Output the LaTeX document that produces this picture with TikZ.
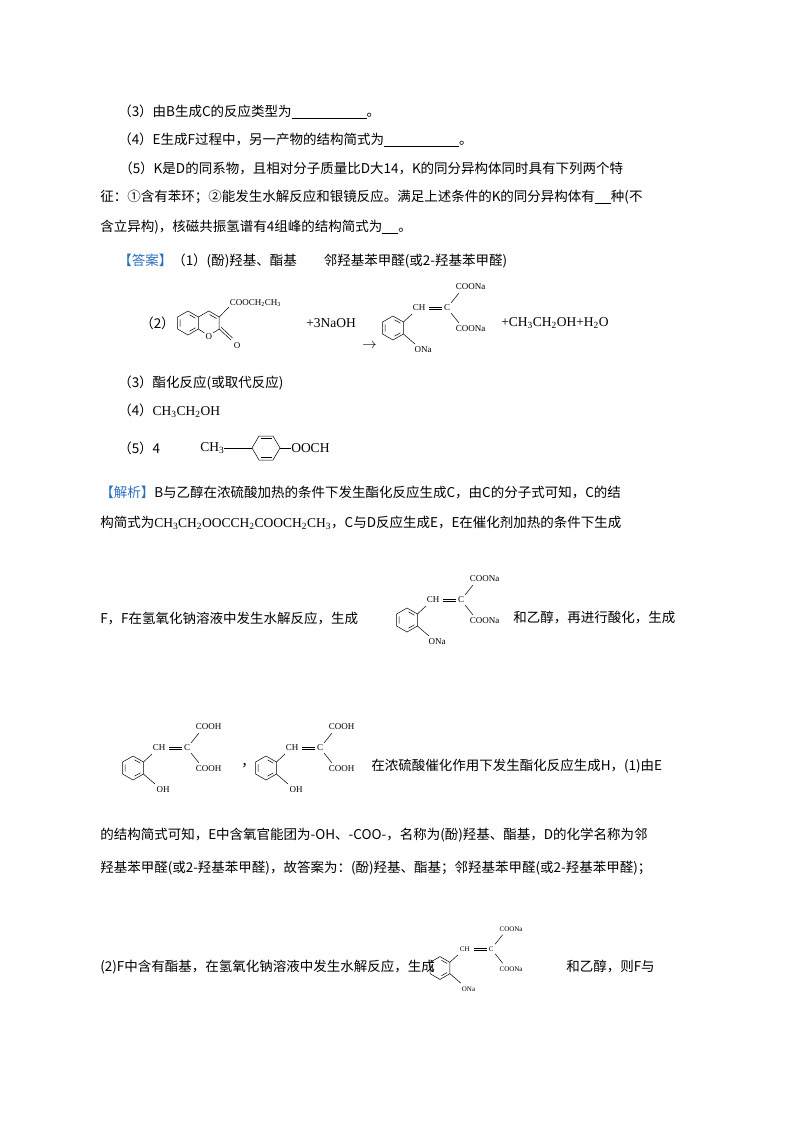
\documentclass[tikz,border=0pt]{standalone}
\usepackage{fontspec}
\setmainfont{Liberation Serif}
\newfontfamily\cjk{Noto Sans CJK SC}
\definecolor{ansblue}{RGB}{40,110,190}
\newcommand\dn[1]{\textsubscript{#1}}
\newcommand\blank[1]{\underline{\hspace{#1}}}
\newcommand\ringP{% pointy-top benzene r=12 at origin
  \draw (10.4,-6)--(0,-12)--(-10.4,-6)--(-10.4,6)--(0,12)--(10.4,6)--cycle;
  \draw (1.5,-8.2)--(7.4,-4.8) (-7.8,-3.6)--(-7.8,3.6) (1.5,8.2)--(7.4,4.8);}
\newcommand\acidmol[6]{%
\begin{scope}[shift={(#1,#2)},scale=#3,every node/.style={inner sep=0.5pt,font=\fontsize{#6}{10}\selectfont}]
  \ringP
  \node at (26,-20) {CH};
  \node at (54,-20) {C};
  \node[anchor=west] at (62,-41) {#4};
  \node[anchor=west] at (62,1) {#4};
  \node at (30,22) {#5};
  \draw (10.4,-6)--(19,-14);
  \draw (36,-20.8)--(49,-20.8) (36,-19.2)--(49,-19.2);
  \draw (58,-25)--(66,-35);
  \draw (58,-15)--(66,-5);
  \draw (10.4,6)--(22,16);
\end{scope}}
\begin{document}
\begin{tikzpicture}[x=1pt,y=-1pt,line width=0.5pt,
  txt/.style={anchor=west,inner sep=0pt,font=\fontsize{13.5}{16}\selectfont\cjk},
  chem/.style={inner sep=0.5pt,font=\fontsize{9}{10}\selectfont}]
\useasboundingbox (0,0) rectangle (800,1132);
\node[txt] (l3) at (118,112) {（3）由B生成C的反应类型为\blank{75pt}。};
\node[txt] (l4) at (118,140) {（4）E生成F过程中，另一产物的结构简式为\blank{75pt}。};
\node[txt] (l5) at (119,168) {（5）K是D的同系物，且相对分子质量比D大14，K的同分异构体同时具有下列两个特};
\node[txt] (l6) at (100,197) {征：①含有苯环；②能发生水解反应和银镜反应。满足上述条件的K的同分异构体有\blank{16pt}种(不};
\node[txt] (l7) at (100,227) {含立异构)，核磁共振氢谱有4组峰的结构简式为\blank{16pt}。};
\node[txt] (a1) at (118,261) {\textcolor{ansblue}{【答案】}（1）(酚)羟基、酯基\quad\quad 邻羟基苯甲醛(或2-羟基苯甲醛)};
% (2)
\node[txt] (a2) at (140,323) {（2）};
\begin{scope}[shift={(188,323)}]
  \ringP
\end{scope}
\draw (198.4,317)--(208.8,311)--(219.2,317)--(219.2,329)--(213,333);
\draw (209.5,314.5)--(216.5,318.5);
\node[chem] (o1) at (208.8,337) {O};
\draw (198.4,329)--(204.5,333);
\node[chem] (o2) at (237,346) {O};
\draw (219.2,329)--(231,340) (221.3,327.3)--(232.5,338);
\node[chem,anchor=west] (est) at (229,303) {COOCH\dn{2}CH\dn{3}};
\draw (219.2,317)--(229,307);
\node[txt,font=\fontsize{13.5}{16}\selectfont] (naoh) at (306,323) {+3NaOH};
\node[txt,font=\fontsize{13.5}{16}\selectfont] (arr) at (362,346) {$\rightarrow$};
\acidmol{393}{328}{1}{COONa}{ONa}{9}
\node[txt,font=\fontsize{13.5}{16}\selectfont] (prod) at (501,323) {+CH\dn{3}CH\dn{2}OH+H\dn{2}O};
\node[txt] (a3) at (118,383) {（3）酯化反应(或取代反应)};
\node[txt] (a4) at (118,411) {（4）{\rmfamily CH\dn{3}CH\dn{2}OH}};
\node[txt] (a5) at (118,448) {（5）4};
\node[anchor=west,inner sep=0pt,font=\fontsize{13.5}{16}\selectfont] (ch3) at (200,448) {CH\dn{3}};
\begin{scope}[shift={(266,448)}]
  \draw (-14,0)--(-7,-12)--(7,-12)--(14,0)--(7,12)--(-7,12)--cycle;
  \draw (-5.5,-9.5)--(5.5,-9.5) (-5.5,9.5)--(5.5,9.5);
\end{scope}
\node[anchor=west,inner sep=0pt,font=\fontsize{13.5}{16}\selectfont] (ooch) at (291,448) {OOCH};
\draw (ch3.east)--(252,448) (280,448)--(ooch.west);
% analysis
\node[txt] (j1) at (100,492) {\textcolor{ansblue}{【解析】}B与乙醇在浓硫酸加热的条件下发生酯化反应生成C，由C的分子式可知，C的结};
\node[txt] (j2) at (100,523) {构简式为{\rmfamily CH\dn{3}CH\dn{2}OOCCH\dn{2}COOCH\dn{2}CH\dn{3}}，C与D反应生成E，E在催化剂加热的条件下生成};
\node[txt] (j3) at (100,618) {F，F在氢氧化钠溶液中发生水解反应，生成};
\acidmol{407}{620}{1}{COONa}{ONa}{9}
\node[txt] (j3b) at (513,618) {和乙醇，再进行酸化，生成};
\acidmol{133}{768}{1}{COOH}{OH}{9}
\node[txt] (comma) at (241,766) {，};
\acidmol{266}{768}{1}{COOH}{OH}{9}
\node[txt] (j4) at (371,766) {在浓硫酸催化作用下发生酯化反应生成H，(1)由E};
\node[txt] (j5) at (100,835) {的结构简式可知，E中含氧官能团为-OH、-COO-，名称为(酚)羟基、酯基，D的化学名称为邻};
\node[txt] (j6) at (100,868) {羟基苯甲醛(或2-羟基苯甲醛)，故答案为：(酚)羟基、酯基；邻羟基苯甲醛(或2-羟基苯甲醛)；};
\node[txt] (j7) at (100,967) {(2)F中含有酯基，在氢氧化钠溶液中发生水解反应，生成};
\acidmol{440}{968}{0.95}{COONa}{ONa}{7}
\node[txt] (j7b) at (566,967) {和乙醇，则F与};
\end{tikzpicture}
\end{document}
